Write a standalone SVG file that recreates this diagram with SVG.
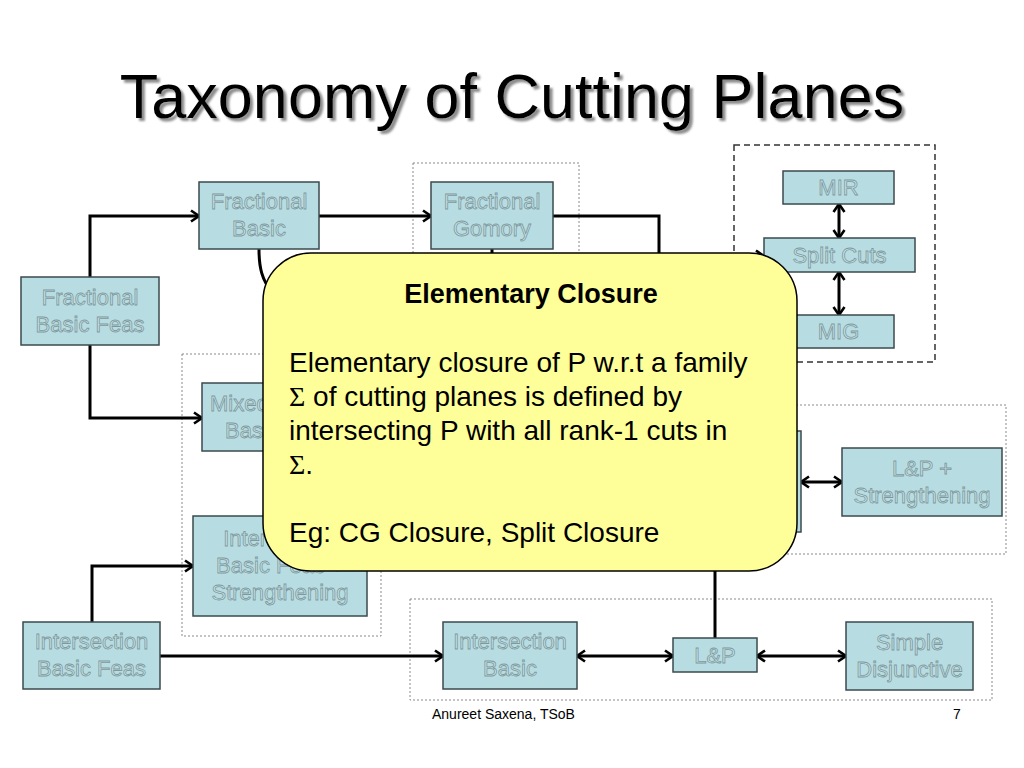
<svg xmlns="http://www.w3.org/2000/svg" width="1024" height="768" viewBox="0 0 1024 768">
<style>
.node{fill:#b7dde3;stroke:#3b4a4e;stroke-width:1.5}
.lbl{font-family:"Liberation Sans",Arial,sans-serif;font-size:22px;fill:#c2e3e8;stroke:#7f989c;stroke-width:0.8;text-anchor:middle}
.con{fill:none;stroke:#000;stroke-width:3}
.dot{fill:none;stroke:#8a8a8a;stroke-width:1;stroke-dasharray:2,2}
.dash{fill:none;stroke:#333;stroke-width:1.5;stroke-dasharray:6,4}
.body{font-family:"Liberation Sans",Arial,sans-serif;font-size:28px;fill:#000}
.sig{font-family:"Liberation Serif","Times New Roman",serif}
</style>
<defs>
<marker id="ah" viewBox="0 0 12 14" refX="10" refY="7" markerWidth="12" markerHeight="14" markerUnits="userSpaceOnUse" orient="auto-start-reverse">
<path d="M2,1.5 L10,7 L2,12.5" fill="none" stroke="#000" stroke-width="2.6"/>
</marker>
<filter id="shadow" x="-5%" y="-20%" width="110%" height="150%"><feDropShadow dx="3" dy="3" stdDeviation="1.3" flood-color="#808080" flood-opacity="0.9"/></filter>
</defs>
<rect width="1024" height="768" fill="#fff"/>

<g id="title">
<text x="512" y="118" text-anchor="middle" font-family="Liberation Sans,Arial,sans-serif" font-size="63" fill="#000" filter="url(#shadow)">Taxonomy of Cutting Planes</text>
</g>

<g id="groups">
<rect class="dot" x="413" y="163" width="166" height="237"/>
<rect class="dot" x="182" y="354" width="199" height="282"/>
<rect class="dot" x="700" y="405" width="306" height="149"/>
<rect class="dot" x="410" y="599" width="582" height="101"/>
<rect class="dash" x="734" y="145" width="201" height="217"/>
</g>

<g id="connectors">
<path class="con" d="M90,277 V216 H199" marker-end="url(#ah)"/>
<path class="con" d="M90,345 V418 H202" marker-end="url(#ah)"/>
<path class="con" d="M319,216 H431" marker-end="url(#ah)"/>
<path class="con" d="M553,216 H659 V400"/>
<path class="con" d="M492,249 V320"/>
<path class="con" d="M259,249 C259,268 262,280 272,292 L400,330"/>
<path class="con" d="M700,256 H764" marker-end="url(#ah)"/>
<path class="con" d="M839,204 V238" marker-start="url(#ah)" marker-end="url(#ah)"/>
<path class="con" d="M839,272 V315" marker-start="url(#ah)" marker-end="url(#ah)"/>
<path class="con" d="M92,622 V566 H193" marker-end="url(#ah)"/>
<path class="con" d="M160,656 H443" marker-end="url(#ah)"/>
<path class="con" d="M577,656 H673" marker-start="url(#ah)" marker-end="url(#ah)"/>
<path class="con" d="M757,656 H846" marker-start="url(#ah)" marker-end="url(#ah)"/>
<path class="con" d="M715,638 V500"/>
<path class="con" d="M801,482 H842" marker-start="url(#ah)" marker-end="url(#ah)"/>
</g>

<g id="n-fbf"><rect class="node" x="21" y="277" width="138" height="68"/>
<text class="lbl" x="90" y="305">Fractional</text><text class="lbl" x="90" y="332">Basic Feas</text></g>
<g id="n-fb"><rect class="node" x="199" y="182" width="120" height="67"/>
<text class="lbl" x="259" y="209">Fractional</text><text class="lbl" x="259" y="236">Basic</text></g>
<g id="n-fg"><rect class="node" x="431" y="182" width="122" height="67"/>
<text class="lbl" x="492" y="209">Fractional</text><text class="lbl" x="492" y="236">Gomory</text></g>
<g id="n-mir"><rect class="node" x="783" y="171" width="111" height="33"/>
<text class="lbl" x="838.5" y="195">MIR</text></g>
<g id="n-split"><rect class="node" x="764" y="238" width="151" height="34"/>
<text class="lbl" x="839.5" y="263">Split Cuts</text></g>
<g id="n-mig"><rect class="node" x="783" y="315" width="111" height="33"/>
<text class="lbl" x="838.5" y="339">MIG</text></g>
<g id="n-mixed"><rect class="node" x="202" y="383" width="118" height="68"/>
<text class="lbl" x="210" y="411" style="text-anchor:start">Mixed</text><text class="lbl" x="225" y="438" style="text-anchor:start">Basic</text></g>
<g id="n-ibfs"><rect class="node" x="193" y="516" width="174" height="100"/>
<text class="lbl" x="280" y="546">Intersection</text><text class="lbl" x="280" y="573">Basic Feas +</text><text class="lbl" x="280" y="600">Strengthening</text></g>
<g id="n-ibf"><rect class="node" x="23" y="622" width="137" height="67"/>
<text class="lbl" x="91.5" y="649">Intersection</text><text class="lbl" x="91.5" y="676">Basic Feas</text></g>
<g id="n-ib"><rect class="node" x="443" y="622" width="134" height="67"/>
<text class="lbl" x="510" y="649">Intersection</text><text class="lbl" x="510" y="676">Basic</text></g>
<g id="n-lp"><rect class="node" x="673" y="638" width="84" height="34"/>
<text class="lbl" x="715" y="663">L&amp;P</text></g>
<g id="n-sd"><rect class="node" x="846" y="622" width="127" height="68"/>
<text class="lbl" x="909.5" y="650">Simple</text><text class="lbl" x="909.5" y="677">Disjunctive</text></g>
<g id="n-lps"><rect class="node" x="842" y="448" width="160" height="68"/>
<text class="lbl" x="922" y="476">L&amp;P +</text><text class="lbl" x="922" y="503">Strengthening</text></g>
<g id="n-hidden"><rect class="node" x="690" y="431" width="111" height="101"/></g>

<g id="callout">
<rect x="263" y="253" width="534" height="318" rx="48" ry="48" fill="#ffff99" stroke="#000" stroke-width="1.5"/>
<text x="531" y="303" text-anchor="middle" font-family="Liberation Sans,Arial,sans-serif" font-size="27" font-weight="bold">Elementary Closure</text>
<text class="body" x="289" y="372">Elementary closure of P w.r.t a family</text>
<text class="body" x="289" y="406"><tspan class="sig">Σ</tspan> of cutting planes is defined by</text>
<text class="body" x="289" y="440">intersecting P with all rank-1 cuts in</text>
<text class="body" x="289" y="474"><tspan class="sig">Σ</tspan>.</text>
<text class="body" x="289" y="542">Eg: CG Closure, Split Closure</text>
</g>

<g id="footer">
<text x="432" y="719" font-family="Liberation Sans,Arial,sans-serif" font-size="14">Anureet Saxena, TSoB</text>
<text x="953" y="719" font-family="Liberation Sans,Arial,sans-serif" font-size="14">7</text>
</g>
</svg>
